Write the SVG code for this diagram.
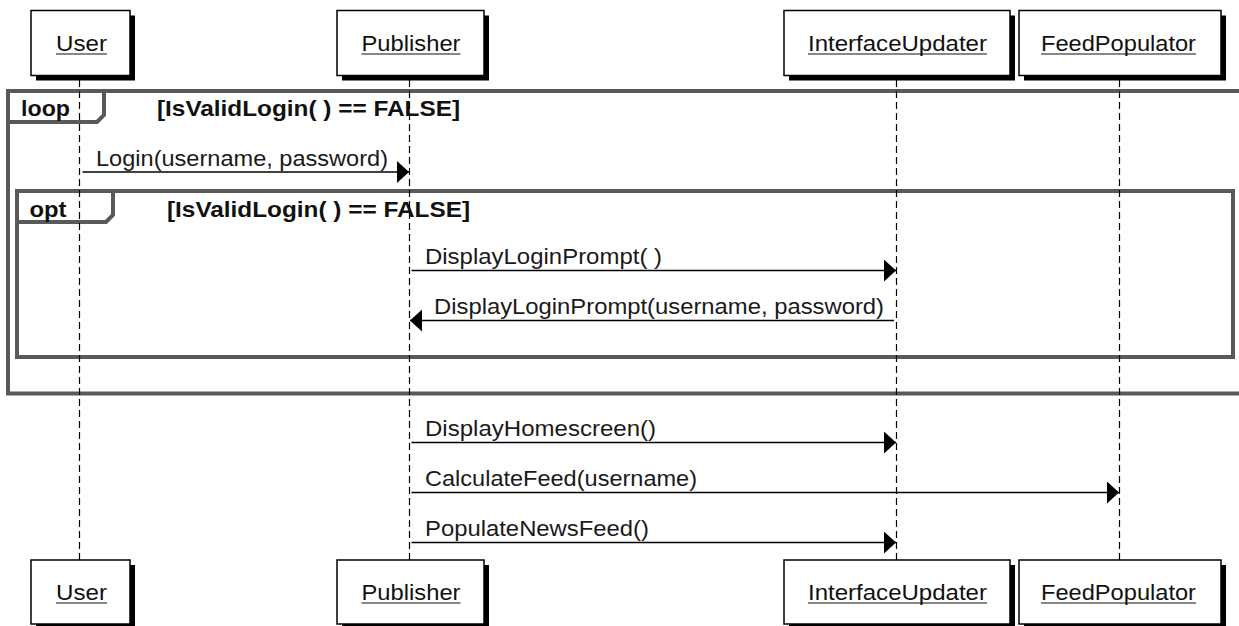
<svg xmlns="http://www.w3.org/2000/svg" width="1239" height="626" viewBox="0 0 1239 626">
  <style>
    .box { fill: #ffffff; stroke: #000000; stroke-width: 1.5; }
    .shadow { fill: #000000; }
    .name { font-family: "Liberation Sans", Arial, sans-serif; font-size: 22.5px; fill: #111111; }
    .uline { stroke: #111111; stroke-width: 1.2; }
    .life { stroke: #000000; stroke-width: 1.2; stroke-dasharray: 7 4; fill: none; }
    .frame { fill: none; stroke: #595959; stroke-width: 4; }
    .ftext { font-family: "Liberation Sans", Arial, sans-serif; font-size: 22.5px; font-weight: bold; fill: #111111; }
    .msg { stroke: #000000; stroke-width: 1.5; fill: none; marker-end: url(#head); }
    .mtext { font-family: "Liberation Sans", Arial, sans-serif; font-size: 22.5px; fill: #1a1a1a; }
  </style>
  <defs>
    <marker id="head" markerUnits="userSpaceOnUse" markerWidth="12" markerHeight="22" refX="12" refY="11" orient="auto">
      <path d="M0,0 L12,11 L0,22 Z" fill="#000000"/>
    </marker>
  </defs>

  <rect width="1239" height="626" fill="#ffffff"/>

  <!-- combined fragments -->
  <g id="loop-fragment">
    <rect class="frame" x="8" y="91" width="1250" height="302.5"/>
    <path class="frame" d="M8,122 L97,122 L104,115 L104,91"/>
    <text class="ftext" x="21" y="116" textLength="49" lengthAdjust="spacingAndGlyphs">loop</text>
    <text class="ftext" x="157" y="116" textLength="303" lengthAdjust="spacingAndGlyphs">[IsValidLogin( ) == FALSE]</text>
  </g>
  <g id="opt-fragment">
    <rect class="frame" x="17" y="191" width="1216" height="166"/>
    <path class="frame" d="M17,222 L106,222 L113,215 L113,191"/>
    <text class="ftext" x="29.5" y="216.5" textLength="37" lengthAdjust="spacingAndGlyphs">opt</text>
    <text class="ftext" x="167" y="216.5" textLength="303" lengthAdjust="spacingAndGlyphs">[IsValidLogin( ) == FALSE]</text>
  </g>

  <!-- lifelines -->
  <g id="lifelines">
    <line class="life" x1="79.5" y1="80" x2="79.5" y2="560"/>
    <line class="life" x1="409.5" y1="80" x2="409.5" y2="560"/>
    <line class="life" x1="896.5" y1="80" x2="896.5" y2="560"/>
    <line class="life" x1="1119.5" y1="80" x2="1119.5" y2="560"/>
  </g>

  <!-- participants, head and foot -->
  <g id="user-top">
    <rect class="shadow" x="36" y="15.5" width="99" height="65"/>
    <rect class="box" x="31" y="10.5" width="99" height="65"/>
    <text class="name" x="56" y="50.5" textLength="51" lengthAdjust="spacingAndGlyphs">User</text>
    <line class="uline" x1="56" y1="54" x2="107" y2="54"/>
  </g>
  <g id="publisher-top">
    <rect class="shadow" x="342" y="15.5" width="147" height="65"/>
    <rect class="box" x="337" y="10.5" width="147" height="65"/>
    <text class="name" x="361.5" y="50.5" textLength="99" lengthAdjust="spacingAndGlyphs">Publisher</text>
    <line class="uline" x1="361.5" y1="54" x2="460.5" y2="54"/>
  </g>
  <g id="interfaceupdater-top">
    <rect class="shadow" x="789" y="15.5" width="226" height="65"/>
    <rect class="box" x="784" y="10.5" width="226" height="65"/>
    <text class="name" x="808" y="50.5" textLength="179" lengthAdjust="spacingAndGlyphs">InterfaceUpdater</text>
    <line class="uline" x1="808" y1="54" x2="987" y2="54"/>
  </g>
  <g id="feedpopulator-top">
    <rect class="shadow" x="1024" y="15.5" width="202" height="65"/>
    <rect class="box" x="1019" y="10.5" width="202" height="65"/>
    <text class="name" x="1041" y="50.5" textLength="155" lengthAdjust="spacingAndGlyphs">FeedPopulator</text>
    <line class="uline" x1="1041" y1="54" x2="1196" y2="54"/>
  </g>

  <g id="user-bottom">
    <rect class="shadow" x="36" y="565" width="99" height="64"/>
    <rect class="box" x="31" y="560" width="99" height="64"/>
    <text class="name" x="56" y="599.5" textLength="51" lengthAdjust="spacingAndGlyphs">User</text>
    <line class="uline" x1="56" y1="603" x2="107" y2="603"/>
  </g>
  <g id="publisher-bottom">
    <rect class="shadow" x="342" y="565" width="147" height="64"/>
    <rect class="box" x="337" y="560" width="147" height="64"/>
    <text class="name" x="361.5" y="599.5" textLength="99" lengthAdjust="spacingAndGlyphs">Publisher</text>
    <line class="uline" x1="361.5" y1="603" x2="460.5" y2="603"/>
  </g>
  <g id="interfaceupdater-bottom">
    <rect class="shadow" x="789" y="565" width="226" height="64"/>
    <rect class="box" x="784" y="560" width="226" height="64"/>
    <text class="name" x="808" y="599.5" textLength="179" lengthAdjust="spacingAndGlyphs">InterfaceUpdater</text>
    <line class="uline" x1="808" y1="603" x2="987" y2="603"/>
  </g>
  <g id="feedpopulator-bottom">
    <rect class="shadow" x="1024" y="565" width="202" height="64"/>
    <rect class="box" x="1019" y="560" width="202" height="64"/>
    <text class="name" x="1041" y="599.5" textLength="155" lengthAdjust="spacingAndGlyphs">FeedPopulator</text>
    <line class="uline" x1="1041" y1="603" x2="1196" y2="603"/>
  </g>

  <!-- messages -->
  <g id="connectors">
    <line class="msg" x1="82.5" y1="172" x2="409" y2="172"/>
    <text class="mtext" x="96" y="166" textLength="292" lengthAdjust="spacingAndGlyphs">Login(username, password)</text>

    <line class="msg" x1="411.5" y1="270.5" x2="896" y2="270.5"/>
    <text class="mtext" x="425" y="264" textLength="237" lengthAdjust="spacingAndGlyphs">DisplayLoginPrompt( )</text>

    <line class="msg" x1="894" y1="320.5" x2="410" y2="320.5"/>
    <text class="mtext" x="434" y="314" textLength="450" lengthAdjust="spacingAndGlyphs">DisplayLoginPrompt(username, password)</text>

    <line class="msg" x1="411.5" y1="442.5" x2="896" y2="442.5"/>
    <text class="mtext" x="425" y="436" textLength="231" lengthAdjust="spacingAndGlyphs">DisplayHomescreen()</text>

    <line class="msg" x1="411.5" y1="492.5" x2="1119" y2="492.5"/>
    <text class="mtext" x="425" y="486" textLength="272" lengthAdjust="spacingAndGlyphs">CalculateFeed(username)</text>

    <line class="msg" x1="411.5" y1="542.5" x2="896" y2="542.5"/>
    <text class="mtext" x="425" y="536" textLength="224" lengthAdjust="spacingAndGlyphs">PopulateNewsFeed()</text>
  </g>
</svg>
